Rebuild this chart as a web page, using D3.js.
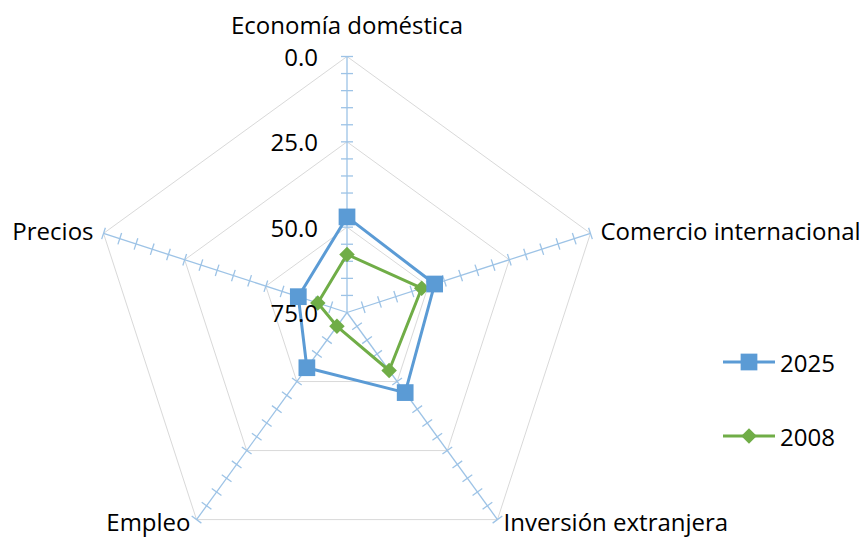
<!DOCTYPE html>
<html><head><meta charset="utf-8">
<script src="https://cdn.jsdelivr.net/npm/d3@7"></script>
<style>body{margin:0;background:#fff}svg{display:block}text{font-family:"Open Sans",sans-serif;fill:#000}</style>
</head><body><svg id="c" width="868" height="538"></svg>
<script>
const categories = ["Economía doméstica","Comercio internacional","Inversión extranjera","Empleo","Precios"];
const seriesNames = ["2025","2008"];
const values2025 = [47, 48, 46, 55, 60];
const values2008 = [58, 52, 54, 70, 66];
const tickLabels = [0, 25, 50, 75];
const minorTicks = d3.range(0, 75, 5);

const svg = d3.select("#c");
const cx = 347, cy = 312.5, R = 256;
const r = d3.scaleLinear().domain([75, 0]).range([0, R]);
const angStep = 360 / categories.length;
const a = c => (categories.indexOf(c) * angStep - 90) * Math.PI / 180;
const pt = (c, v) => [cx + r(v) * Math.cos(a(c)), cy + r(v) * Math.sin(a(c))];

const g = svg.append("g");
// grid pentagons
tickLabels.filter(t => t < 75).forEach(t => {
  g.append("path")
    .attr("d", d3.line()(categories.map(c => pt(c, t))) + "Z")
    .attr("fill", "none").attr("stroke", "#D9D9D9").attr("stroke-width", 1);
});
// spokes with ticks
categories.forEach(c => {
  const [x1, y1] = pt(c, 0);
  g.append("line").attr("x1", cx).attr("y1", cy).attr("x2", x1).attr("y2", y1)
    .attr("stroke", "#9DC3E6").attr("stroke-width", 1.3);
  const an = a(c), px = -Math.sin(an), py = Math.cos(an);
  minorTicks.forEach(t => {
    const [x, y] = pt(c, t);
    g.append("line").attr("x1", x - 6 * px).attr("y1", y - 6 * py)
      .attr("x2", x + 6 * px).attr("y2", y + 6 * py)
      .attr("stroke", "#9DC3E6").attr("stroke-width", 1.3);
  });
});

const series = [
  {name: "2025", vals: values2025, color: "#5B9BD5", marker: d3.symbolSquare, size: 280, rot: 0},
  {name: "2008", vals: values2008, color: "#70AD47", marker: d3.symbolSquare, size: 120, rot: 45}
];
series.slice().reverse().forEach(s => {
  const pts = categories.map((c, i) => pt(c, s.vals[i]));
  g.append("path").attr("d", d3.line()(pts) + "Z")
    .attr("fill", "none").attr("stroke", s.color).attr("stroke-width", 3).attr("stroke-linejoin", "round");
  pts.forEach(p => {
    g.append("path").attr("d", d3.symbol().type(s.marker).size(s.size)())
      .attr("transform", `translate(${p[0]},${p[1]}) rotate(${s.rot})`).attr("fill", s.color);
  });
});

// tick labels
const fmt = d3.format(".1f");
tickLabels.forEach(t => {
  const [x, y] = pt(categories[0], t);
  svg.append("text").attr("x", x - 29).attr("y", y).attr("text-anchor", "end")
    .attr("dominant-baseline", "central").attr("font-size", 24).text(fmt(t));
});

// category labels
const catPos = [
  {dx: 0, dy: -23, anchor: "middle", base: "auto"},
  {dx: 10, dy: -3, anchor: "start", base: "central"},
  {dx: 6, dy: 11, anchor: "start", base: "auto"},
  {dx: -6, dy: 11, anchor: "end", base: "auto"},
  {dx: -10, dy: -3, anchor: "end", base: "central"}
];
categories.forEach((c, i) => {
  const [x, y] = pt(c, 0);
  svg.append("text").attr("x", x + catPos[i].dx).attr("y", y + catPos[i].dy)
    .attr("text-anchor", catPos[i].anchor).attr("dominant-baseline", catPos[i].base)
    .attr("font-size", 24).text(c);
});

// legend
const ly = d3.scalePoint().domain(seriesNames).range([362, 436]);
series.forEach(s => {
  const y = ly(s.name);
  svg.append("line").attr("x1", 723).attr("x2", 775).attr("y1", y).attr("y2", y)
    .attr("stroke", s.color).attr("stroke-width", 3);
  svg.append("path").attr("d", d3.symbol().type(s.marker).size(s.size)())
    .attr("transform", `translate(749,${y}) rotate(${s.rot})`).attr("fill", s.color);
  svg.append("text").attr("x", 780).attr("y", y).attr("dominant-baseline", "central")
    .attr("font-size", 24).text(s.name);
});
</script></body></html>
